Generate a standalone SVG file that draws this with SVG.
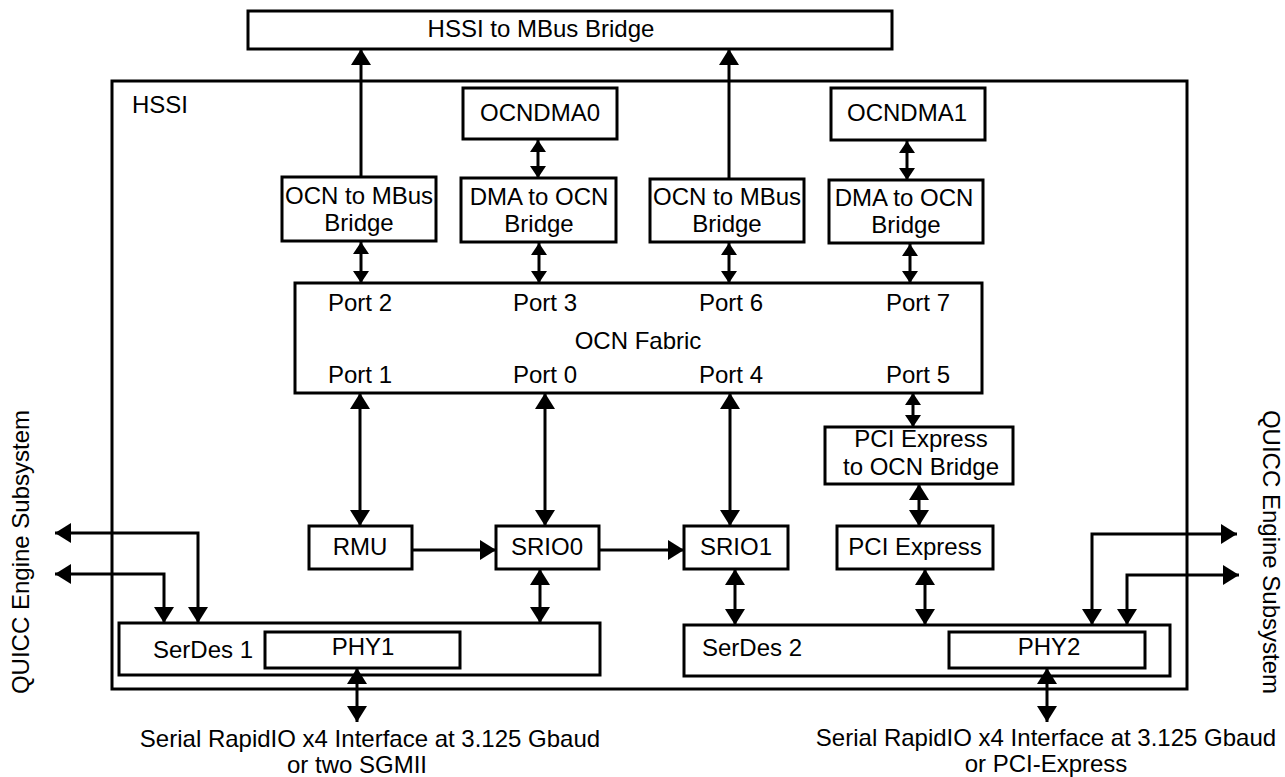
<svg xmlns="http://www.w3.org/2000/svg" width="1285" height="777" viewBox="0 0 1285 777">
<style>
.box{fill:#fff;stroke:#000;stroke-width:3}
.frame{fill:none;stroke:#000;stroke-width:3}
.t{font-family:"Liberation Sans",Arial,sans-serif;font-size:24px;fill:#000}
.m{text-anchor:middle}
.ln{fill:none;stroke:#000;stroke-width:3}
</style>
<defs>
<marker id="A" viewBox="0 0 16 20" refX="16" refY="10" markerWidth="16" markerHeight="20" markerUnits="userSpaceOnUse" orient="auto-start-reverse"><path d="M0,0L16,10L0,20z" fill="#000"/></marker>
<marker id="S" viewBox="0 0 12 16" refX="12" refY="8" markerWidth="12" markerHeight="16" markerUnits="userSpaceOnUse" orient="auto-start-reverse"><path d="M0,0L12,8L0,16z" fill="#000"/></marker>
</defs>
<rect width="1285" height="777" fill="#fff"/>

<g id="hssi">
<rect class="frame" x="112" y="81" width="1075" height="608"/>
<text class="t" x="132" y="113">HSSI</text>
</g>
<g id="hssi-mbus-bridge">
<rect class="box" x="248" y="11" width="644" height="38"/>
<text class="t" x="541" y="37" text-anchor="middle">HSSI to MBus Bridge</text>
</g>
<g id="ocndma0">
<rect class="box" x="463" y="88" width="154" height="51"/>
<text class="t m" x="540" y="121">OCNDMA0</text>
</g>
<g id="ocndma1">
<rect class="box" x="831" y="88" width="154" height="52"/>
<text class="t m" x="907" y="121">OCNDMA1</text>
</g>
<g id="ocn-mbus-1">
<rect class="box" x="282" y="177" width="154" height="64"/>
<text class="t m" x="359" y="204">OCN to MBus</text>
<text class="t m" x="359" y="231">Bridge</text>
</g>
<g id="dma-ocn-0">
<rect class="box" x="461" y="178" width="155" height="64"/>
<text class="t m" x="539" y="205">DMA to OCN</text>
<text class="t m" x="539" y="232">Bridge</text>
</g>
<g id="ocn-mbus-2">
<rect class="box" x="650" y="179" width="154" height="63"/>
<text class="t m" x="727" y="205">OCN to MBus</text>
<text class="t m" x="727" y="232">Bridge</text>
</g>
<g id="dma-ocn-1">
<rect class="box" x="829" y="180" width="154" height="63"/>
<text class="t m" x="904" y="206">DMA to OCN</text>
<text class="t m" x="906" y="233">Bridge</text>
</g>
<g id="ocn-fabric">
<rect class="box" x="295" y="283" width="687" height="110"/>
<text class="t m" x="360" y="311">Port 2</text>
<text class="t m" x="545" y="311">Port 3</text>
<text class="t m" x="731" y="311">Port 6</text>
<text class="t m" x="918" y="311">Port 7</text>
<text class="t m" x="638" y="349">OCN Fabric</text>
<text class="t m" x="360" y="383">Port 1</text>
<text class="t m" x="545" y="383">Port 0</text>
<text class="t m" x="731" y="383">Port 4</text>
<text class="t m" x="918" y="383">Port 5</text>
</g>
<g id="pcie-ocn-bridge">
<rect class="box" x="825" y="427" width="188" height="57"/>
<text class="t m" x="921" y="447">PCI Express</text>
<text class="t m" x="921" y="475">to OCN Bridge</text>
</g>
<g id="rmu">
<rect class="box" x="309" y="526" width="103" height="43"/>
<text class="t m" x="360" y="555">RMU</text>
</g>
<g id="srio0">
<rect class="box" x="496" y="526" width="103" height="43"/>
<text class="t m" x="547" y="555">SRIO0</text>
</g>
<g id="srio1">
<rect class="box" x="684" y="526" width="104" height="43"/>
<text class="t m" x="736" y="555">SRIO1</text>
</g>
<g id="pcie">
<rect class="box" x="837" y="526" width="156" height="43"/>
<text class="t m" x="915" y="555">PCI Express</text>
</g>
<g id="serdes1">
<rect class="box" x="119" y="623" width="481" height="52"/>
<text class="t" x="153" y="658">SerDes 1</text>
</g>
<g id="phy1">
<rect class="box" x="265" y="632" width="195" height="36"/>
<text class="t m" x="363" y="655">PHY1</text>
</g>
<g id="serdes2">
<rect class="box" x="684" y="625" width="486" height="51"/>
<text class="t" x="702" y="656">SerDes 2</text>
</g>
<g id="phy2">
<rect class="box" x="949" y="632" width="196" height="36"/>
<text class="t m" x="1049" y="655">PHY2</text>
</g>
<g id="quicc-left">
<text class="t m" transform="translate(29,552) rotate(-90)">QUICC Engine Subsystem</text>
</g>
<g id="quicc-right">
<text class="t m" transform="translate(1263,552) rotate(90)">QUICC Engine Subsystem</text>
</g>
<g id="ext-left">
<text class="t m" x="370" y="747">Serial RapidIO x4 Interface at 3.125 Gbaud</text>
<text class="t m" x="357" y="773">or two SGMII</text>
</g>
<g id="ext-right">
<text class="t m" x="1046" y="746">Serial RapidIO x4 Interface at 3.125 Gbaud</text>
<text class="t m" x="1046" y="772">or PCI-Express</text>
</g>

<g id="connectors">
<path class="ln" d="M361,177V49" marker-end="url(#A)"/>
<path class="ln" d="M729,179V49" marker-end="url(#A)"/>
<path class="ln" d="M538,140V178" marker-start="url(#S)" marker-end="url(#S)"/>
<path class="ln" d="M907,141V180" marker-start="url(#S)" marker-end="url(#S)"/>
<path class="ln" d="M361,242V283" marker-start="url(#S)" marker-end="url(#S)"/>
<path class="ln" d="M539,243V283" marker-start="url(#S)" marker-end="url(#S)"/>
<path class="ln" d="M729,243V283" marker-start="url(#S)" marker-end="url(#S)"/>
<path class="ln" d="M910,244V283" marker-start="url(#S)" marker-end="url(#S)"/>
<path class="ln" d="M360,393V526" marker-start="url(#A)" marker-end="url(#A)"/>
<path class="ln" d="M545,393V526" marker-start="url(#A)" marker-end="url(#A)"/>
<path class="ln" d="M730,393V526" marker-start="url(#A)" marker-end="url(#A)"/>
<path class="ln" d="M913,393V427" marker-start="url(#S)" marker-end="url(#S)"/>
<path class="ln" d="M919,484V526" marker-start="url(#A)" marker-end="url(#A)"/>
<path class="ln" d="M412,550H496" marker-end="url(#A)"/>
<path class="ln" d="M599,550H684" marker-end="url(#A)"/>
<path class="ln" d="M540,569V623" marker-start="url(#A)" marker-end="url(#A)"/>
<path class="ln" d="M735,569V625" marker-start="url(#A)" marker-end="url(#A)"/>
<path class="ln" d="M925,569V625" marker-start="url(#A)" marker-end="url(#A)"/>
<path class="ln" d="M198,623V533H55" marker-start="url(#A)" marker-end="url(#A)"/>
<path class="ln" d="M164,623V574H55" marker-start="url(#A)" marker-end="url(#A)"/>
<path class="ln" d="M1092,625V534H1237" marker-start="url(#A)" marker-end="url(#A)"/>
<path class="ln" d="M1127,625V575H1239" marker-start="url(#A)" marker-end="url(#A)"/>
<path class="ln" d="M357,668V722" marker-start="url(#A)" marker-end="url(#A)"/>
<path class="ln" d="M1047,668V722" marker-start="url(#A)" marker-end="url(#A)"/>
</g>
</svg>
